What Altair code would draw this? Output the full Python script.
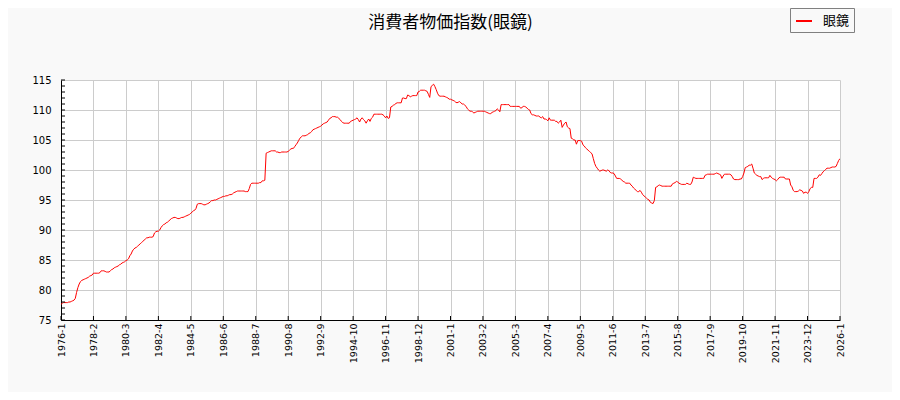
import altair as alt
import pandas as pd

chart_title = "消費者物価指数(眼鏡)"
series_name = "眼鏡"
start_year = 1976

# monthly index values, 1976-1 onward
vals_1976_1979 = [
    77.6, 77.8, 77.9, 77.9, 77.9, 77.9, 78.0, 78.0, 78.1, 78.2, 78.3, 78.6,
    79.6, 80.4, 81.0, 81.4, 81.6, 81.7, 81.8, 81.9, 82.0, 82.1, 82.3, 82.4,
    82.5, 82.8, 82.8, 82.8, 82.8, 82.8, 82.9, 83.2, 83.2, 83.2, 83.1, 83.0,
    83.0, 83.0, 83.2, 83.4, 83.5, 83.7, 83.8, 83.9, 84.0, 84.2, 84.3, 84.5,
]
vals_1980s = [
    84.6, 84.7, 84.9, 85.0, 85.2, 85.7, 86.0, 86.5, 86.8, 87.0, 87.1, 87.3,
    87.5, 87.7, 87.9, 88.1, 88.3, 88.5, 88.7, 88.7, 88.8, 88.8, 88.8, 88.9,
    89.5, 89.7, 89.8, 89.8, 90.0, 90.4, 90.7, 90.9, 91.0, 91.2, 91.3, 91.5,
    91.7, 91.9, 92.0, 92.1, 92.1, 92.0, 91.9, 91.9, 92.0, 92.1, 92.1, 92.2,
    92.3, 92.4, 92.5, 92.6, 92.8, 93.0, 93.2, 93.3, 93.6, 94.3, 94.4, 94.4,
    94.4, 94.3, 94.2, 94.2, 94.3, 94.4, 94.5, 94.7, 94.9, 94.9, 95.0, 95.0,
    95.1, 95.2, 95.3, 95.4, 95.5, 95.6, 95.6, 95.7, 95.7, 95.8, 95.9, 95.9,
    96.0, 96.2, 96.3, 96.4, 96.5, 96.5, 96.5, 96.5, 96.5, 96.5, 96.4, 96.4,
    96.4, 96.9, 97.6, 97.8, 97.8, 97.8, 97.8, 97.8, 97.8, 97.9, 97.9, 98.2,
    98.2, 98.3, 102.8, 102.9, 103.0, 103.1, 103.2, 103.2, 103.2, 103.2, 103.0, 103.0,
]
vals_1990s = [
    102.9, 102.9, 103.0, 103.0, 103.0, 103.0, 103.0, 103.1, 103.3, 103.5, 103.6, 103.6,
    103.9, 104.2, 104.5, 104.9, 105.3, 105.5, 105.7, 105.7, 105.7, 105.8, 105.9, 106.1,
    106.2, 106.4, 106.7, 106.8, 106.9, 107.0, 107.1, 107.2, 107.3, 107.5, 107.7, 107.8,
    107.9, 108.0, 108.3, 108.6, 108.7, 108.9, 108.9, 108.9, 108.8, 108.8, 108.6, 108.4,
    108.1, 107.9, 107.8, 107.8, 107.8, 107.8, 107.8, 108.1, 108.2, 108.3, 108.4, 108.5,
    108.7, 108.4, 108.0, 108.5, 108.7, 108.4, 108.2, 107.8, 108.2, 108.5, 108.1, 108.6,
    108.8, 109.3, 109.3, 109.3, 109.3, 109.3, 109.3, 109.3, 109.2, 109.0, 108.7, 109.0,
    108.6, 108.7, 110.5, 110.6, 110.8, 110.9, 111.1, 111.2, 111.2, 111.2, 111.2, 112.0,
    112.0, 111.9, 111.9, 112.5, 112.4, 112.2, 112.3, 112.4, 112.4, 112.4, 112.4, 113.0,
    113.1, 113.3, 113.3, 113.3, 113.3, 113.2, 113.1, 112.6, 112.1, 113.9, 114.1, 114.3,
]
vals_2000s = [
    113.9, 113.4, 112.8, 112.4, 112.3, 112.3, 112.3, 112.3, 112.2, 112.1, 112.0, 111.8,
    111.8, 111.7, 111.6, 111.5, 111.3, 111.2, 111.3, 111.4, 111.2, 111.0, 111.0, 110.8,
    110.6, 110.2, 110.0, 109.8, 109.8, 109.7, 109.5, 109.6, 109.7, 109.8, 109.8, 109.8,
    109.8, 109.8, 109.8, 109.7, 109.6, 109.5, 109.4, 109.4, 109.6, 109.7, 109.8, 109.9,
    110.2, 110.0, 109.7, 110.9, 110.9, 110.9, 110.9, 110.9, 110.9, 110.9, 110.6, 110.6,
    110.6, 110.6, 110.6, 110.6, 110.6, 110.6, 110.3, 110.4, 110.6, 110.6, 110.5, 110.3,
    110.1, 110.0, 109.4, 109.2, 109.2, 109.1, 109.0, 109.0, 109.0, 108.8, 108.7, 108.9,
    108.5, 108.5, 108.4, 108.2, 108.7, 108.3, 108.3, 108.3, 108.3, 108.1, 108.1, 107.8,
    108.0, 108.3, 107.1, 107.5, 107.8, 108.0, 107.2, 107.0, 106.9, 105.3, 105.2, 105.0,
    105.0, 104.3, 104.9, 104.9, 104.9, 104.8, 104.2, 104.0, 103.7, 103.5, 103.3, 103.1,
]
vals_2010s = [
    102.9, 102.7, 101.9, 101.1, 100.6, 100.3, 100.0, 99.8, 99.9, 100.0, 100.0, 99.9,
    99.8, 100.0, 99.9, 99.6, 99.5, 99.5, 99.4, 99.0, 98.6, 98.6, 98.6, 98.5,
    98.3, 98.1, 98.0, 97.8, 97.8, 97.8, 97.8, 97.5, 97.3, 97.0, 96.8, 96.6,
    96.4, 96.4, 96.6, 96.3, 95.9, 95.7, 95.5, 95.3, 95.1, 95.0, 94.6, 94.5,
    94.4, 94.9, 97.1, 97.2, 97.4, 97.5, 97.4, 97.3, 97.3, 97.3, 97.3, 97.3,
    97.3, 97.3, 97.3, 97.7, 97.8, 97.9, 98.1, 98.0, 97.8, 97.7, 97.6, 97.6,
    97.6, 97.6, 97.8, 97.7, 97.6, 97.6, 98.0, 98.8, 98.7, 98.6, 98.6, 98.6,
    98.6, 98.6, 98.6, 98.6, 99.1, 99.2, 99.3, 99.3, 99.3, 99.3, 99.3, 99.3,
    99.4, 99.5, 99.4, 99.3, 99.2, 98.6, 99.0, 99.3, 99.3, 99.3, 99.3, 99.3,
    99.2, 98.9, 98.5, 98.4, 98.4, 98.4, 98.4, 98.5, 98.5, 98.9, 99.5, 100.4,
]
vals_2020s = [
    100.5, 100.6, 100.8, 100.8, 101.0, 100.3, 99.5, 99.3, 99.1, 99.0, 98.9, 98.9,
    98.4, 98.6, 98.7, 98.7, 98.7, 98.7, 99.1, 98.8, 98.6, 98.5, 98.4, 98.2,
    98.4, 98.7, 98.8, 98.8, 98.8, 98.8, 98.5, 98.5, 98.5, 98.5, 97.5, 97.2,
    96.6, 96.4, 96.4, 96.4, 96.5, 96.7, 96.6, 96.5, 96.1, 96.3, 96.3, 96.1,
    96.4, 96.9, 97.1, 97.1, 98.6, 98.6, 98.6, 98.8, 99.2, 99.1, 99.4, 99.7,
    99.9, 100.1, 100.3, 100.3, 100.3, 100.4, 100.5, 100.5, 100.5, 100.6, 101.1, 101.6,
    101.9,
]

x_tick_values = list(range(0, 601, 25))
y_major = list(range(75, 116, 5))
y_minor = list(range(75, 116))

values = vals_1976_1979 + vals_1980s + vals_1990s + vals_2000s + vals_2010s + vals_2020s
df = pd.DataFrame({"i": list(range(len(values))), "v": values, "s": series_name})
ytick_df = pd.DataFrame({"i": [0] * len(y_minor), "v": y_minor})
xtick_df = pd.DataFrame({"i": x_tick_values, "v": [75] * len(x_tick_values)})

x_scale = alt.Scale(domain=[0, 600], nice=False, zero=False)
y_scale = alt.Scale(domain=[75, 115], nice=False, zero=False)

label_expr = (
    f"toString({start_year} + floor(datum.value / 12)) + '-' + toString(datum.value % 12 + 1)"
)

x_axis = alt.Axis(
    values=x_tick_values,
    labelExpr=label_expr,
    labelAngle=-90,
    title=None,
    ticks=False,
    grid=True,
    gridColor="#cccccc",
    gridWidth=1,
    domainColor="black",
    domainWidth=1,
    labelFont="DejaVu Sans",
    labelFontSize=9.5,
    labelColor="black",
    labelPadding=3,
    labelOverlap=False,
    labelFlush=False,
)
y_axis = alt.Axis(
    values=y_major,
    title=None,
    ticks=False,
    grid=True,
    gridColor="#cccccc",
    gridWidth=1,
    domainColor="black",
    domainWidth=1,
    labelFont="DejaVu Sans",
    labelFontSize=10,
    labelColor="black",
    labelPadding=10,
    labelFlush=False,
)

line = alt.Chart(df).mark_line(strokeWidth=1, clip=True).encode(
    x=alt.X("i:Q", scale=x_scale, axis=x_axis),
    y=alt.Y("v:Q", scale=y_scale, axis=y_axis),
    color=alt.Color(
        "s:N",
        scale=alt.Scale(range=["#ff0000"]),
        legend=alt.Legend(
            title=None,
            orient="none",
            legendX=729,
            legendY=-72,
            symbolType="stroke",
            symbolStrokeWidth=2,
            symbolSize=256,
            symbolOffset=1,
            labelFont="Noto Sans CJK JP",
            labelFontSize=13,
            labelColor="black",
            labelOffset=10,
            padding=4,
            strokeColor="#808080",
            fillColor="#f9f9f9",
            cornerRadius=0,
        ),
    ),
)

yticks = alt.Chart(ytick_df).mark_rule(color="black", strokeWidth=1).encode(
    y=alt.Y("v:Q", scale=y_scale, axis=y_axis),
    x=alt.value(0),
    x2=alt.value(4),
)

xticks = alt.Chart(xtick_df).mark_rule(color="black", strokeWidth=1).encode(
    x=alt.X("i:Q", scale=x_scale, axis=x_axis),
    y=alt.value(240),
    y2=alt.value(236),
)

chart = (
    alt.layer(line, yticks, xticks)
    .properties(
        width=779,
        height=240,
        autosize=alt.AutoSizeParams(type="none"),
        padding={"left": 53, "top": 72, "right": 52, "bottom": 72},
        background="#f9f9f9",
        title=alt.TitleParams(
            text=chart_title,
            font="Noto Sans CJK JP",
            fontSize=17,
            fontWeight="normal",
            color="black",
            anchor="middle",
            frame="group",
            baseline="alphabetic",
            offset=-37,
        ),
    )
    .configure_view(stroke=None, fill="white")
)

chart.save("out.html", embed_options={"renderer": "svg", "actions": False})
